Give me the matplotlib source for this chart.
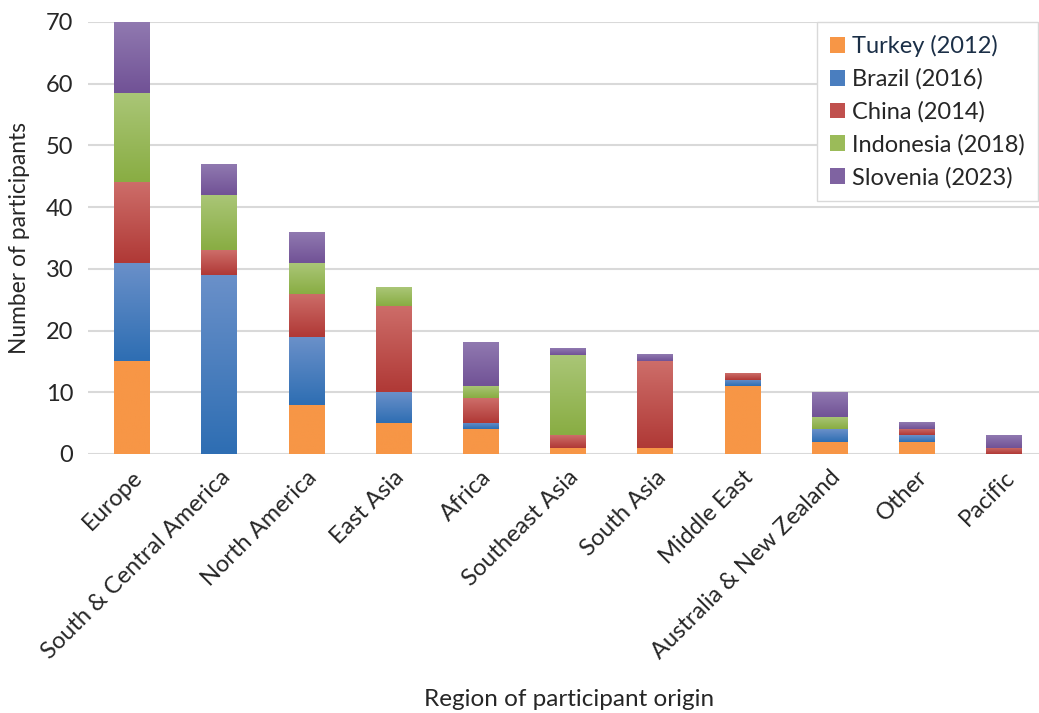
import numpy as np
import matplotlib
matplotlib.use("Agg")
import matplotlib.pyplot as plt
from matplotlib.colors import LinearSegmentedColormap
from matplotlib.patches import Patch

plt.rcParams['font.family'] = ['Lato', 'DejaVu Sans']

regions = ["Europe", "South & Central America", "North America", "East Asia",
           "Africa", "Southeast Asia", "South Asia", "Middle East",
           "Australia & New Zealand", "Other", "Pacific"]

series_names = ["Turkey (2012)", "Brazil (2016)", "China (2014)",
                "Indonesia (2018)", "Slovenia (2023)"]

turkey    = [15, 0, 8, 5, 4, 1, 1, 11, 2, 2, 0]
brazil    = [16, 29, 11, 5, 1, 0, 0, 1, 2, 1, 0]
china     = [13, 4, 7, 14, 4, 2, 14, 1, 0, 1, 1]
indonesia = [14.5, 9, 5, 3, 2, 13, 0, 0, 2, 0, 0]
slovenia  = [11.5, 5, 5, 0, 7, 1, 1, 0, 4, 1, 2]

series_values = [turkey, brazil, china, indonesia, slovenia]

# (top, bottom) gradient colours and a flat colour for the legend swatch
grad_colors = [("#f79646", "#f79646"),
               ("#6a90c9", "#2e6eb3"),
               ("#cd6d69", "#b03936"),
               ("#aac677", "#89ad43"),
               ("#9079b0", "#715296")]
swatch_colors = ["#f79646", "#4a7ebf", "#c0504d", "#9bbb59", "#7f63a1"]

W, H = 1039, 713
fig = plt.figure(figsize=(W / 100, H / 100), dpi=100)
ax_left, ax_right, ax_top, ax_bottom = 88.4, 1039, 22, 454
ax = fig.add_axes([ax_left / W, 1 - ax_bottom / H,
                   (ax_right - ax_left) / W, (ax_bottom - ax_top) / H])

x = np.arange(len(regions))
bar_w = 0.41
bottom = np.zeros(len(regions))
grad = np.linspace(0, 1, 64).reshape(-1, 1)

for vals, (ctop, cbot), sw in zip(series_values, grad_colors, swatch_colors):
    vals = np.asarray(vals, dtype=float)
    bars = ax.bar(x, vals, bottom=bottom, width=bar_w, color=sw,
                  linewidth=0, zorder=2)
    cmap = LinearSegmentedColormap.from_list("seg", [cbot, ctop])
    for patch in bars:
        h = patch.get_height()
        if h <= 0:
            continue
        x0, y0 = patch.get_xy()
        w = patch.get_width()
        ax.imshow(grad, extent=[x0, x0 + w, y0, y0 + h], origin="lower",
                  cmap=cmap, aspect="auto", interpolation="bilinear",
                  zorder=3)
    bottom += vals

ax.set_xlim(-0.5, (ax_right - 132) / 87.2)
ax.set_ylim(0, 70)
ax.set_yticks(range(0, 71, 10))
ax.yaxis.grid(True, color="#d9d9d9", linewidth=1.5, zorder=0)
ax.set_axisbelow(True)
for s in ax.spines.values():
    s.set_visible(False)
ax.tick_params(axis="both", length=0, labelsize=17, colors="#262626")
ax.tick_params(axis="y", pad=11)
ax.set_xticks(x)
ax.set_xticklabels(regions, rotation=45, ha="right", va="top",
                   rotation_mode="anchor")
ax.tick_params(axis="x", pad=9)

fig.text(20 / W, 1 - 238 / H, "Number of participants", rotation=90,
         ha="center", va="center", fontsize=16.4, color="#262626")
fig.text(569 / W, 1 - 699 / H, "Region of participant origin",
         ha="center", va="center", fontsize=17.5, color="#262626")

handles = [Patch(facecolor=c, edgecolor="none") for c in swatch_colors]
leg = ax.legend(handles, series_names, loc="upper right",
                bbox_to_anchor=(1038 / W, 1 - 22 / H),
                bbox_transform=fig.transFigure, fontsize=17,
                frameon=True, fancybox=False, framealpha=1,
                edgecolor="#d9d9d9", handlelength=0.65, handleheight=0.65,
                handletextpad=0.3, labelspacing=0.48, borderpad=0.55,
                borderaxespad=0)
leg.get_frame().set_linewidth(1.0)
for t in leg.get_texts():
    t.set_color("#262626")
leg.get_texts()[0].set_color("#1b2f47")

fig.savefig("out.png", dpi=100)
